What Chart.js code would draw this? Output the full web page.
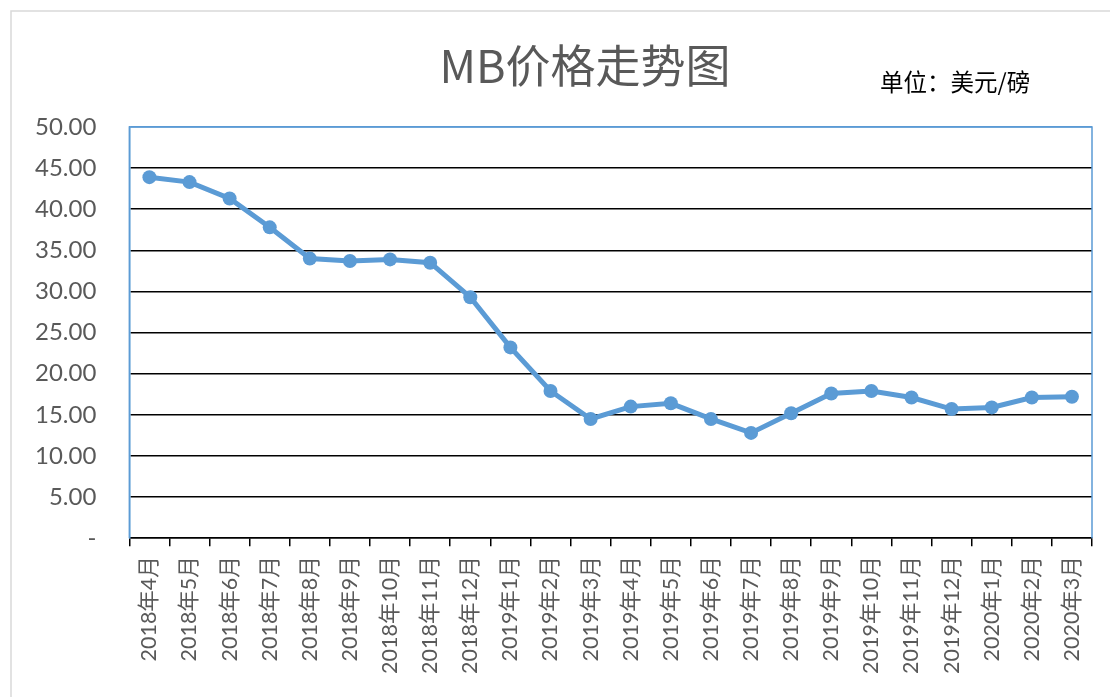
<!DOCTYPE html>
<html>
<head>
<meta charset="utf-8">
<script src="https://cdn.jsdelivr.net/npm/chart.js@4/dist/chart.umd.min.js"></script>
<style>
  html, body { margin: 0; padding: 0; background: #fff; }
  #wrap { width: 1110px; height: 697px; position: relative; }
</style>
</head>
<body>
<div id="wrap"><canvas id="mbChart"></canvas></div>
<script>
// Data
const months = [
  '2018年4月', '2018年5月', '2018年6月', '2018年7月', '2018年8月', '2018年9月',
  '2018年10月', '2018年11月', '2018年12月', '2019年1月', '2019年2月', '2019年3月',
  '2019年4月', '2019年5月', '2019年6月', '2019年7月', '2019年8月', '2019年9月',
  '2019年10月', '2019年11月', '2019年12月', '2020年1月', '2020年2月', '2020年3月'
];
const mbPrice = [
  43.9, 43.3, 41.3, 37.8, 34.0, 33.7, 33.9, 33.5, 29.3, 23.2, 17.9, 14.5,
  16.0, 16.4, 14.5, 12.8, 15.2, 17.6, 17.9, 17.1, 15.7, 15.9, 17.1, 17.2
];
const yTicks = [0, 5, 10, 15, 20, 25, 30, 35, 40, 45, 50];

const titleText = 'MB价格走势图';
const unitText = '单位：美元/磅';

const blue = '#5b9bd5';
const gray = '#595959';
const cjk = "Lato, 'Noto Sans CJK SC', sans-serif";

// Title, unit label, outer frame and the blue plot border
const decorations = {
  id: 'decorations',
  beforeDraw(chart) {
    const ctx = chart.ctx;
    ctx.save();
    ctx.strokeStyle = '#d9d9d9';
    ctx.lineWidth = 1.5;
    ctx.beginPath();
    ctx.moveTo(11, chart.height);
    ctx.lineTo(11, 11);
    ctx.lineTo(chart.width, 11);
    ctx.stroke();
    ctx.restore();
  },
  afterDraw(chart) {
    const ctx = chart.ctx;
    const area = chart.chartArea;
    ctx.save();
    ctx.fillStyle = gray;
    ctx.font = "45px 'Noto Sans CJK SC', sans-serif";
    ctx.textAlign = 'center';
    ctx.textBaseline = 'middle';
    ctx.fillText(titleText, 585, 66);

    ctx.fillStyle = '#000';
    ctx.font = "23.5px 'Noto Sans CJK SC', sans-serif";
    ctx.textAlign = 'left';
    ctx.fillText(unitText, 880, 82);

    ctx.strokeStyle = blue;
    ctx.lineWidth = 1.5;
    ctx.beginPath();
    ctx.moveTo(area.left, area.bottom);
    ctx.lineTo(area.left, area.top);
    ctx.lineTo(area.right, area.top);
    ctx.lineTo(area.right, area.bottom);
    ctx.stroke();
    ctx.restore();
  }
};

const ctx = document.getElementById('mbChart').getContext('2d');
new Chart(ctx, {
  type: 'line',
  data: {
    labels: months,
    datasets: [{
      label: 'MB价格',
      data: mbPrice,
      borderColor: blue,
      backgroundColor: blue,
      borderWidth: 5,
      pointRadius: 7,
      pointHoverRadius: 7,
      pointBorderWidth: 0,
      tension: 0
    }]
  },
  options: {
    responsive: true,
    maintainAspectRatio: false,
    animation: false,
    layout: { padding: { top: 127, left: 2, right: 18, bottom: 13 } },
    plugins: {
      legend: { display: false },
      tooltip: { enabled: false }
    },
    scales: {
      x: {
        offset: true,
        grid: {
          offset: true,
          drawOnChartArea: false,
          drawTicks: true,
          tickLength: 8,
          color: '#000',
          lineWidth: 1.5
        },
        border: { display: true, color: '#000', width: 1.5 },
        ticks: {
          autoSkip: false,
          maxRotation: 90,
          minRotation: 90,
          padding: 10,
          color: gray,
          font: { family: cjk, size: 21.5 }
        }
      },
      y: {
        min: 0,
        max: 50,
        afterBuildTicks: axis => { axis.ticks = yTicks.map(v => ({ value: v })); },
        grid: {
          drawTicks: false,
          color: c => (c.tick.value === 50 ? blue : '#000'),
          lineWidth: 1.5
        },
        border: { display: true, color: blue, width: 1.5 },
        ticks: {
          padding: 33,
          color: gray,
          font: { family: cjk, size: 24 },
          callback: v => (v === 0 ? '-' : v.toFixed(2))
        }
      }
    }
  },
  plugins: [decorations]
});
</script>
</body>
</html>
